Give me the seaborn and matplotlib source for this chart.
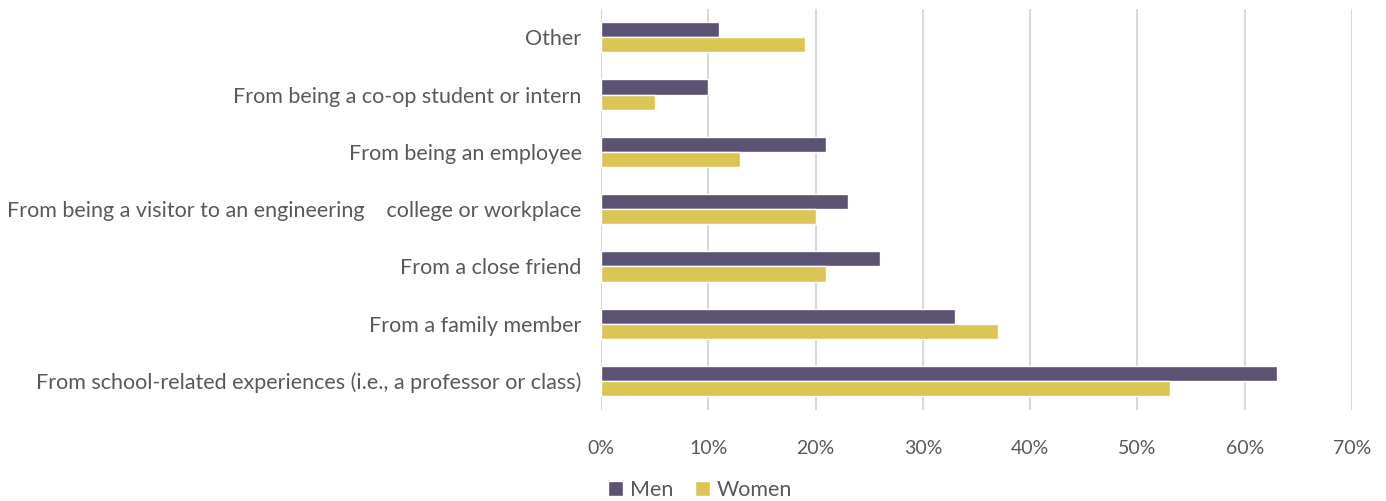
import matplotlib
matplotlib.use("Agg")
import matplotlib.pyplot as plt
import pandas as pd
import seaborn as sns
from matplotlib.ticker import PercentFormatter

categories = [
    "Other",
    "From being a co-op student or intern",
    "From being an employee",
    "From being a visitor to an engineering    college or workplace",
    "From a close friend",
    "From a family member",
    "From school-related experiences (i.e., a professor or class)",
]
men = [11, 10, 21, 23, 26, 33, 63]
women = [19, 5, 13, 20, 21, 37, 53]
groups = ["Men", "Women"]
colors = ["#5B5274", "#DBC655"]
x_ticks = [0, 10, 20, 30, 40, 50, 60, 70]

TEXT_COLOR = "#595959"
GRID_COLOR = "#D9D9D9"

df = pd.DataFrame({
    "category": categories * 2,
    "value": men + women,
    "group": [groups[0]] * len(categories) + [groups[1]] * len(categories),
})

sns.set_theme(style="white")
plt.rcParams["font.family"] = ["Lato", "DejaVu Sans"]

fig = plt.figure(figsize=(13.86, 5.01), dpi=100)
ax = fig.add_axes([0.4336, 0.182, 0.5419, 0.801])

sns.barplot(
    data=df, y="category", x="value", hue="group", order=categories,
    hue_order=groups, palette=colors, orient="h", width=0.534,
    saturation=1, ax=ax, legend=True,
)

ax.set_xlim(0, 70)
ax.set_xticks(x_ticks)
ax.xaxis.set_major_formatter(PercentFormatter(decimals=0))
ax.grid(axis="x", color=GRID_COLOR, linewidth=1.5)
ax.set_axisbelow(True)
for spine in ax.spines.values():
    spine.set_visible(False)
ax.tick_params(axis="both", length=0, colors=TEXT_COLOR)
ax.tick_params(axis="x", pad=22, labelsize=14)
ax.tick_params(axis="y", pad=14, labelsize=15.5)
ax.set_xlabel("")
ax.set_ylabel("")

handles, labels = ax.get_legend_handles_labels()
ax.get_legend().remove()
fig.legend(
    handles, labels, loc="center", bbox_to_anchor=(0.505, 0.022), ncol=2,
    frameon=False, fontsize=15.5, labelcolor=TEXT_COLOR, handlelength=0.7,
    handleheight=0.7, handletextpad=0.3, columnspacing=1.0,
)

fig.savefig("out.png", dpi=100)
